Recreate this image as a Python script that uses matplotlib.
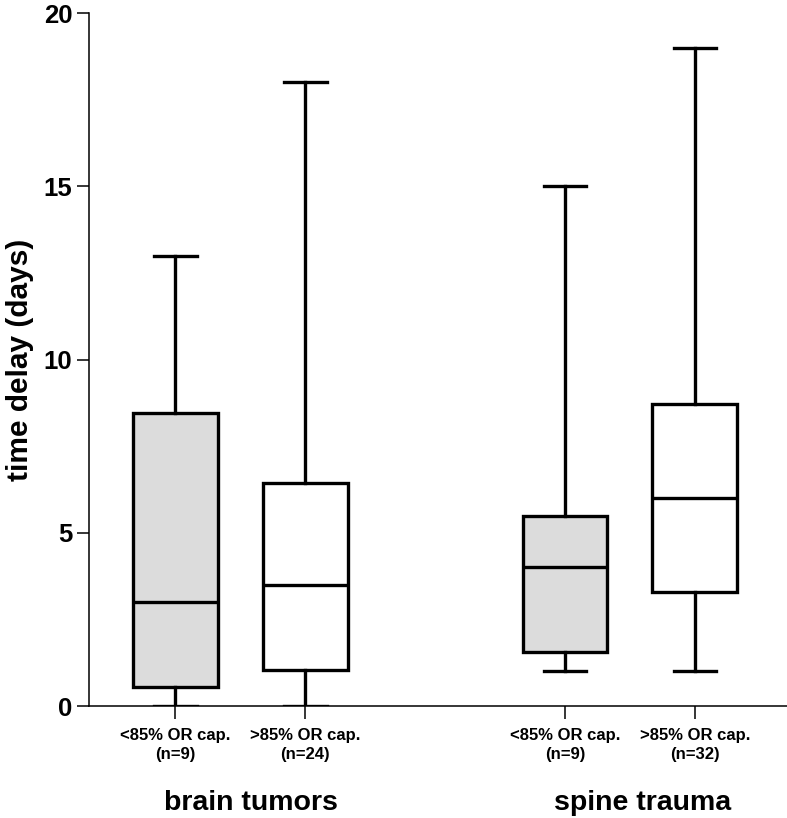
import matplotlib
matplotlib.use("Agg")
import matplotlib.pyplot as plt
import matplotlib.transforms as mtransforms

plt.rcParams['font.family'] = ['Liberation Sans', 'DejaVu Sans']

groups = ["brain tumors", "spine trauma"]
tick_labels = ["<85% OR cap.\n(n=9)", ">85% OR cap.\n(n=24)",
               "<85% OR cap.\n(n=9)", ">85% OR cap.\n(n=32)"]
positions = [1, 2, 4, 5]
whislo = [0, 0, 1, 1]
q1 = [0.55, 1.05, 1.55, 3.3]
med = [3.0, 3.5, 4.0, 6.0]
q3 = [8.45, 6.45, 5.47, 8.73]
whishi = [13, 18, 15, 19]
fills = ["#dcdcdc", "#ffffff", "#dcdcdc", "#ffffff"]
group_centers = [1.58, 4.6]

fig = plt.figure(figsize=(7.87, 8.18), dpi=100)
ax = fig.add_axes([0.1131, 0.1369, 0.887, 0.8472])

stats = []
for i in range(4):
    stats.append(dict(whislo=whislo[i], q1=q1[i], med=med[i], q3=q3[i],
                      whishi=whishi[i], fliers=[]))

lw = 2.4
bp = ax.bxp(stats, positions=positions, widths=0.654, patch_artist=True,
            showfliers=False,
            boxprops=dict(linewidth=lw, edgecolor='black'),
            medianprops=dict(linewidth=lw, color='black'),
            whiskerprops=dict(linewidth=lw, color='black'),
            capprops=dict(linewidth=lw, color='black'),
            capwidths=0.328)
for patch, c in zip(bp['boxes'], fills):
    patch.set_facecolor(c)

ax.set_xlim(0.3346, 5.71)
ax.set_ylim(0, 20)
ax.set_yticks([0, 5, 10, 15, 20])
ax.set_xticks(positions)
ax.set_xticklabels(tick_labels, fontsize=12, fontweight='bold', linespacing=1.35)
for lab in ax.get_yticklabels():
    lab.set_fontsize(18.5)
    lab.set_fontweight('bold')
ax.spines['top'].set_visible(False)
ax.spines['right'].set_visible(False)
for s in ['left', 'bottom']:
    ax.spines[s].set_linewidth(1.1)
ax.tick_params(axis='both', width=1.1, length=9, pad=3)
ax.tick_params(axis='x', pad=7)

ax.set_ylabel("time delay (days)", fontsize=21.5, fontweight='bold', labelpad=7)

trans = mtransforms.blended_transform_factory(ax.transData, fig.transFigure)
for g, xc in zip(groups, group_centers):
    ax.text(xc, 1 - 803 / 818, g, transform=trans, ha='center', va='center',
            fontsize=20.5, fontweight='bold')

fig.savefig("out.png", dpi=100)
